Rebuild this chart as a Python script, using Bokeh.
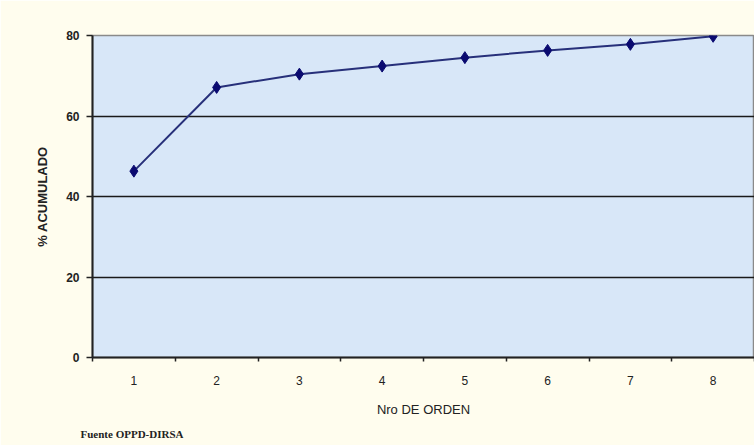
from bokeh.plotting import figure
from bokeh.models import FixedTicker, Range1d, Title
from bokeh.embed import file_html
from bokeh.resources import INLINE

orden = [1, 2, 3, 4, 5, 6, 7, 8]
acumulado = [46.3, 67.1, 70.4, 72.4, 74.5, 76.3, 77.8, 79.8]
y_ticks = [0, 20, 40, 60, 80]
x_labels = ["1", "2", "3", "4", "5", "6", "7", "8"]

p = figure(width=754, height=445, output_backend="svg", toolbar_location=None,
           x_range=Range1d(0.5, 8.5), y_range=Range1d(0, 80))
p.min_border_left = 92
p.min_border_top = 35
p.min_border_bottom = 88
p.min_border_right = 0
p.border_fill_color = "#fffdee"
p.background_fill_color = "#d8e7f8"
p.outline_line_color = "#8a8a8a"
p.outline_line_width = 1.5

p.line(orden, acumulado, line_color="#27307a", line_width=2)
p.scatter(orden, acumulado, marker="diamond", size=12, fill_color="#0a0a70",
          line_color="#0a0a70")

# x axis
p.xaxis.ticker = FixedTicker(ticks=orden, minor_ticks=[0.5 + i for i in range(9)])
p.xaxis.major_label_overrides = {o: l for o, l in zip(orden, x_labels)}
p.xaxis.major_tick_line_color = None
p.xaxis.major_tick_out = 0
p.xaxis.major_tick_in = 0
p.xaxis.minor_tick_out = 4
p.xaxis.minor_tick_in = 0
p.xaxis.minor_tick_line_color = "#222222"
p.xaxis.minor_tick_line_width = 1.5
p.xaxis.axis_line_color = "#222222"
p.xaxis.axis_line_width = 2
p.xaxis.major_label_standoff = 14
p.xaxis.major_label_text_font = "Liberation Sans"
p.xaxis.major_label_text_font_size = "12px"
p.xaxis.major_label_text_color = "#222222"
p.xaxis.axis_label = "Nro DE ORDEN"
p.xaxis.axis_label_text_font = "Liberation Sans"
p.xaxis.axis_label_text_font_style = "normal"
p.xaxis.axis_label_text_font_size = "13px"
p.xaxis.axis_label_text_color = "#222222"
p.xaxis.axis_label_standoff = 14

# y axis
p.yaxis.ticker = FixedTicker(ticks=y_ticks)
p.yaxis.minor_tick_line_color = None
p.yaxis.major_tick_out = 6
p.yaxis.major_tick_in = 0
p.yaxis.major_tick_line_color = "#222222"
p.yaxis.major_tick_line_width = 1.5
p.yaxis.axis_line_color = "#222222"
p.yaxis.axis_line_width = 2
p.yaxis.major_label_standoff = 7
p.yaxis.major_label_text_font = "Liberation Sans"
p.yaxis.major_label_text_font_style = "bold"
p.yaxis.major_label_text_font_size = "12px"
p.yaxis.major_label_text_color = "#222222"
p.yaxis.axis_label = "% ACUMULADO"
p.yaxis.axis_label_text_font = "Liberation Sans"
p.yaxis.axis_label_text_font_style = "bold"
p.yaxis.axis_label_text_font_size = "13px"
p.yaxis.axis_label_text_color = "#222222"
p.yaxis.axis_label_standoff = 13

p.xgrid.grid_line_color = None
p.ygrid.ticker = FixedTicker(ticks=y_ticks[1:-1])
p.ygrid.grid_line_color = "#1a1a1a"
p.ygrid.grid_line_width = 1.5

note = Title(text="Fuente OPPD-DIRSA", align="left", offset=-12,
             text_font="Liberation Serif", text_font_size="11px",
             text_font_style="bold", text_color="#222222", standoff=12)
p.add_layout(note, "below")

open("out.html", "w").write(file_html(p, INLINE))
